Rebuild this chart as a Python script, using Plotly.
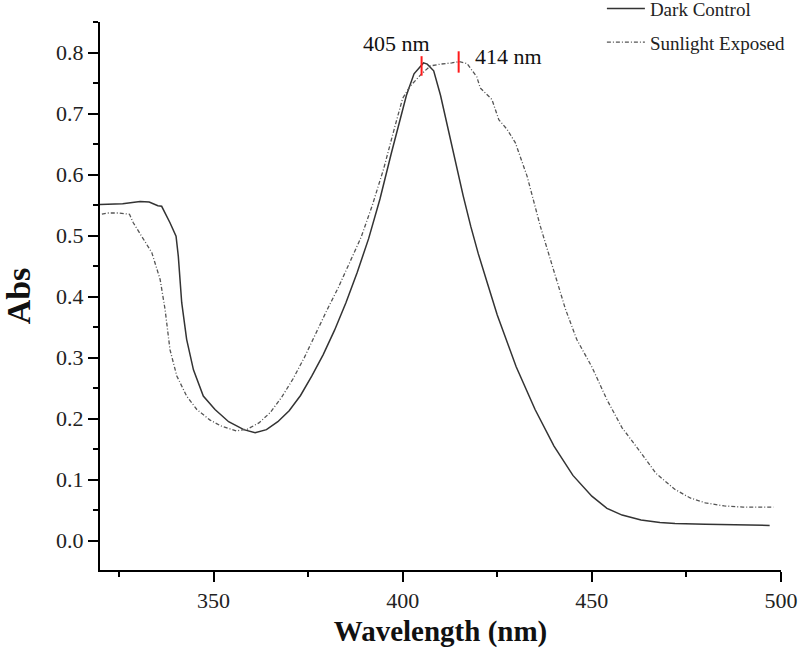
import plotly.graph_objects as go

# Dark Control (solid)
dark_x = [320, 326, 330.6, 333, 335.3, 336.3, 338.5, 340.1, 340.7, 341.6, 342.9, 344.7, 347.3, 350.4,
          354, 358, 361, 364, 367, 370, 373, 376, 379, 382, 385, 388, 391, 394, 397, 399.4, 401, 403,
          405.5, 406.5, 408.2, 410, 412, 414, 416, 418, 420, 422.5, 425, 430, 435, 440, 445, 450, 454,
          458, 463, 468, 472, 480, 490, 497]
dark_y = [0.551, 0.552, 0.556, 0.555, 0.549, 0.548, 0.521, 0.499, 0.466, 0.39, 0.33, 0.28, 0.237, 0.215,
          0.195, 0.182, 0.177, 0.182, 0.195, 0.213, 0.238, 0.27, 0.305, 0.345, 0.39, 0.44, 0.495, 0.56, 0.635,
          0.69, 0.73, 0.765, 0.783, 0.781, 0.77, 0.73, 0.675, 0.615, 0.565, 0.515, 0.47, 0.42, 0.37, 0.285,
          0.215, 0.155, 0.107, 0.073, 0.053, 0.042, 0.034, 0.030, 0.028, 0.027, 0.026, 0.025]

# Sunlight Exposed (dash-dot)
sun_x = [320.5, 322, 325, 327.8, 328.8, 331, 333.7, 335.9, 337.2, 338.5, 340.3, 342.9, 345.6, 349, 352,
         356, 359, 362, 365, 368, 371, 374, 377, 380, 383, 386, 389, 392, 395, 398, 400, 402, 405, 407.3,
         410, 413, 415, 417, 419.6, 420.5, 423.6, 425.4, 427.6, 429.8, 432.9, 436.4, 439.9, 443, 446, 450,
         454, 458, 463, 467, 472, 476, 480, 485, 490, 498]
sun_y = [0.535, 0.537, 0.537, 0.535, 0.521, 0.50, 0.472, 0.428, 0.379, 0.313, 0.27, 0.237, 0.215, 0.198, 0.188,
         0.180, 0.183, 0.193, 0.21, 0.235, 0.265, 0.30, 0.34, 0.378, 0.415, 0.455, 0.497, 0.55, 0.61, 0.68,
         0.725, 0.745, 0.765, 0.778, 0.781, 0.783, 0.785, 0.782, 0.76, 0.742, 0.723, 0.69, 0.674, 0.652, 0.597,
         0.515, 0.444, 0.38, 0.33, 0.285, 0.231, 0.185, 0.144, 0.11, 0.084, 0.07, 0.062, 0.057, 0.055, 0.055]

peak_x = [405, 414.8]
peak_lo = [0.762, 0.767]
peak_hi = [0.794, 0.802]
peak_labels = ["405 nm", "414 nm"]

x_ticks = [350, 400, 450, 500]
y_ticks = [0.0, 0.1, 0.2, 0.3, 0.4, 0.5, 0.6, 0.7, 0.8]

FONT = "Liberation Serif"

fig = go.Figure()
fig.add_trace(go.Scatter(x=dark_x, y=dark_y, mode="lines", name="Dark Control", legendgroup="a",
                         line=dict(color="#333333", width=1.5)))
fig.add_trace(go.Scatter(x=sun_x, y=sun_y, mode="lines", name="Sunlight Exposed", legendgroup="b",
                         line=dict(color="#555555", width=1.3, dash="4px,2px,1px,2px")))

for px, lo, hi in zip(peak_x, peak_lo, peak_hi):
    fig.add_shape(type="line", x0=px, x1=px, y0=lo, y1=hi, xref="x", yref="y",
                  line=dict(color="#ff1a1a", width=2))

fig.add_annotation(x=peak_x[0], y=peak_hi[0], text=peak_labels[0], showarrow=False,
                   xanchor="center", yanchor="bottom", xshift=-25, yshift=-2,
                   font=dict(family=FONT, size=22, color="#111"))
fig.add_annotation(x=peak_x[1], y=0.79, text=peak_labels[1], showarrow=False,
                   xanchor="left", yanchor="middle", xshift=14, yshift=2,
                   font=dict(family=FONT, size=22, color="#111"))

fig.update_layout(
    width=800, height=660,
    margin=dict(l=100, r=19, t=22, b=90, autoexpand=False),
    plot_bgcolor="white", paper_bgcolor="white",
    font=dict(family=FONT, color="#111"),
    showlegend=True,
    legend=dict(x=0.737, y=1.059, xanchor="left", yanchor="top", traceorder="grouped",
                font=dict(family=FONT, size=19, color="#222"),
                bgcolor="rgba(0,0,0,0)", itemwidth=38, tracegroupgap=6),
    xaxis=dict(range=[320, 500], tickvals=x_ticks, ticks="outside", ticklen=10, tickwidth=2,
               tickcolor="black", showline=True, linecolor="black", linewidth=2,
               showgrid=False, zeroline=False,
               minor=dict(dtick=25, tick0=0, ticks="outside", ticklen=5, tickwidth=2, tickcolor="black"),
               tickfont=dict(family=FONT, size=22, color="#222"),
               title=dict(text="<b>Wavelength (nm)</b>", font=dict(family=FONT, size=29, color="#111"), standoff=8)),
    yaxis=dict(range=[-0.048, 0.85], tickvals=y_ticks, tickformat=".1f", ticks="outside", ticklen=10, tickwidth=2,
               tickcolor="black", showline=True, linecolor="black", linewidth=2,
               showgrid=False, zeroline=False,
               minor=dict(dtick=0.05, tick0=0, ticks="outside", ticklen=5, tickwidth=2, tickcolor="black"),
               tickfont=dict(family=FONT, size=22, color="#222"),
               title=dict(text="<b>Abs</b>", font=dict(family=FONT, size=34, color="#111"), standoff=16)),
)

fig.write_html("out.html")
